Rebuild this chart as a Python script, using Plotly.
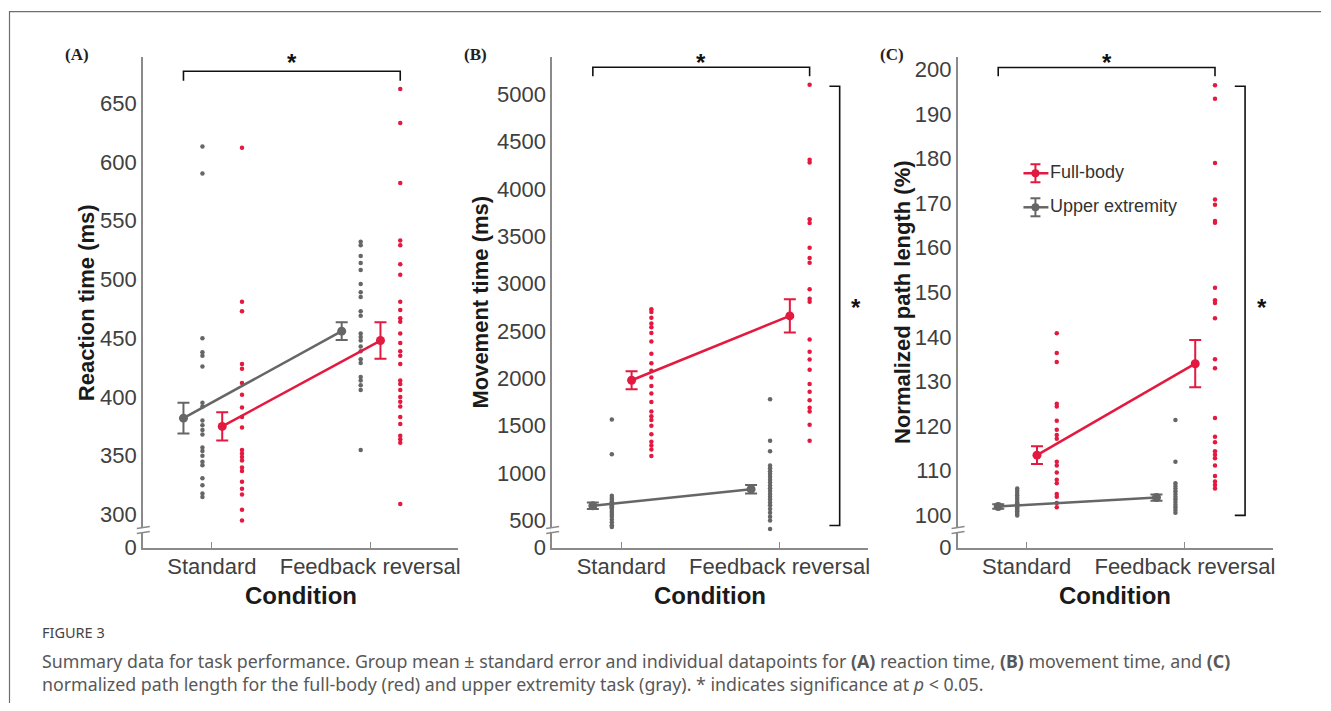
import plotly.graph_objects as go

# The page keeps an 8px body margin; the photographed page is scaled vertically by ~0.981.
PAGE_OFF = 8
VS = 0.981
W = 1331 - 2 * PAGE_OFF
H = int(711 / VS) - 2 * PAGE_OFF
conditions = ['Standard', 'Feedback reversal']

# ---------------- Panel A: reaction time (ms) ----------------
rt_upper_std = [613, 590, 450, 438, 435, 426, 395, 392, 380, 376, 372, 368, 357, 354, 350, 345, 342, 331, 325, 318, 315]
rt_full_std = [612, 481, 473, 428, 424, 412, 402, 391, 383, 374, 355, 352, 349, 346, 340, 337, 328, 322, 317, 304, 295]
rt_upper_fr = [532, 529, 520, 514, 508, 496, 489, 485, 473, 469, 454, 451, 448, 443, 439, 432, 429, 417, 414, 410, 406, 355]
rt_full_fr = [662, 633, 582, 533, 529, 513, 504, 481, 474, 467, 464, 454, 446, 439, 435, 428, 414, 411, 406, 400, 396,
              392, 383, 377, 367, 364, 361, 309]
rt_upper_mean = [382, 456]
rt_upper_se = [13, 7.5]
rt_full_mean = [375, 448]
rt_full_se = [12, 15.5]

# ---------------- Panel B: movement time (ms) ----------------
mt_upper_std = [1566, 1200, 760, 740, 720, 700, 690, 680, 670, 660, 650, 640, 630, 620, 600, 580, 560, 540, 510, 480, 450, 430]
mt_full_std = [2730, 2700, 2640, 2580, 2540, 2480, 2390, 2260, 2160, 2080, 2010, 1920, 1840, 1750, 1650, 1600, 1560, 1500,
               1410, 1330, 1290, 1250, 1180]
mt_upper_fr = [1780, 1340, 1230, 1080, 1050, 1020, 990, 960, 930, 900, 870, 840, 810, 780, 750, 720, 690, 660, 620, 580,
               540, 500, 410]
mt_full_fr = [5100, 4310, 4280, 3680, 3640, 3380, 3270, 3220, 2940, 2840, 2810, 2410, 2280, 2200, 2090, 1940, 1860, 1770,
              1690, 1650, 1510, 1340]
mt_upper_mean = [655, 830]
mt_upper_se = [35, 45]
mt_full_mean = [1980, 2660]
mt_full_se = [95, 175]

# ---------------- Panel C: normalized path length (%) ----------------
pl_upper_std = [106, 105.5, 105, 104.5, 104, 103.5, 103, 102.7, 102.4, 102.1, 101.8, 101.5, 101.2, 100.9, 100.6, 100.3, 100]
pl_full_std = [140.8, 136.4, 134.4, 125, 124.4, 121.2, 119.2, 118, 117.2, 112, 111.2, 109.6, 108, 107.2, 104.8, 104.2,
               102.8, 101.8]
pl_upper_fr = [121.4, 112, 107.2, 106.6, 106, 105.4, 104.8, 104.2, 103.6, 103, 102.4, 101.8, 101.2, 100.6]
pl_full_fr = [196.4, 193.4, 179, 170.8, 169.6, 166, 165.6, 151, 148.2, 147.6, 144.2, 135, 133, 121.8, 117.6, 116.4, 114.4,
              113.6, 112.8, 111.2, 108.8, 107.6, 106.8, 106]
pl_upper_mean = [102.0, 104.0]
pl_upper_se = [0.5, 0.7]
pl_full_mean = [113.5, 134.0]
pl_full_se = [2.0, 5.3]

# tick labels
rt_ticks = [300, 350, 400, 450, 500, 550, 600, 650]
mt_ticks = [500, 1000, 1500, 2000, 2500, 3000, 3500, 4000, 4500, 5000]
pl_ticks = [100, 110, 120, 130, 140, 150, 160, 170, 180, 190, 200]

RED = '#E3193F'
GRAY = '#666666'
AXC = '#8a8a8a'
TXT = '#404040'
FONT = 'Liberation Sans, Arial, Helvetica, sans-serif'

OFF_UM, OFF_UP, OFF_FM, OFF_FP = -0.18, -0.06, 0.065, 0.19

panels = [
    dict(up_s=rt_upper_std, fu_s=rt_full_std, up_f=rt_upper_fr, fu_f=rt_full_fr,
         um=rt_upper_mean, use=rt_upper_se, fm=rt_full_mean, fse=rt_full_se,
         ticks=rt_ticks, yr=[272, 689], xdom=(143, 459), title='Reaction time (ms)', label='(A)',
         lab_x=77, title_x=86, hbr=(677, 669), vbr=None),
    dict(up_s=mt_upper_std, fu_s=mt_full_std, up_f=mt_upper_fr, fu_f=mt_full_fr,
         um=mt_upper_mean, use=mt_upper_se, fm=mt_full_mean, fse=mt_full_se,
         ticks=mt_ticks, yr=[214, 5392], xdom=(553, 869), title='Movement time (ms)', label='(B)',
         lab_x=476, title_x=481, hbr=(5286, 5190), vbr=(447, 5085)),
    dict(up_s=pl_upper_std, fu_s=pl_full_std, up_f=pl_upper_fr, fu_f=pl_full_fr,
         um=pl_upper_mean, use=pl_upper_se, fm=pl_full_mean, fse=pl_full_se,
         ticks=pl_ticks, yr=[92.8, 202.7], xdom=(959, 1275), title='Normalized path length (%)', label='(C)',
         lab_x=893, title_x=904, hbr=(200.4, 198.4), vbr=(100, 196.2)),
]

Y_TOP, Y_BOT = 58, 548


def px(x):
    """window x pixel -> paper fraction"""
    return (x - PAGE_OFF) / W


def py(y):
    """window y pixel -> paper fraction"""
    return 1 - ((y - 1) / VS - PAGE_OFF) / H


fig = go.Figure()
shapes = []
annotations = []

for i, p in enumerate(panels):
    n = '' if i == 0 else str(i + 1)
    xa, ya = 'x' + n, 'y' + n
    # individual datapoints
    fig.add_trace(go.Scatter(x=[1 + OFF_UP] * len(p['up_s']) + [2 + OFF_UP] * len(p['up_f']),
                             y=p['up_s'] + p['up_f'], mode='markers',
                             marker=dict(size=4.5, color=GRAY), xaxis=xa, yaxis=ya, showlegend=False))
    fig.add_trace(go.Scatter(x=[1 + OFF_FP] * len(p['fu_s']) + [2 + OFF_FP] * len(p['fu_f']),
                             y=p['fu_s'] + p['fu_f'], mode='markers',
                             marker=dict(size=4.5, color=RED), xaxis=xa, yaxis=ya, showlegend=False))
    # group means with SE
    fig.add_trace(go.Scatter(x=[1 + OFF_UM, 2 + OFF_UM], y=p['um'], mode='lines+markers',
                             line=dict(color=GRAY, width=2.5), marker=dict(size=9, color=GRAY),
                             error_y=dict(type='data', array=p['use'], color=GRAY, thickness=2, width=6),
                             xaxis=xa, yaxis=ya, showlegend=False))
    fig.add_trace(go.Scatter(x=[1 + OFF_FM, 2 + OFF_FM], y=p['fm'], mode='lines+markers',
                             line=dict(color=RED, width=2.5), marker=dict(size=9, color=RED),
                             error_y=dict(type='data', array=p['fse'], color=RED, thickness=2, width=6),
                             xaxis=xa, yaxis=ya, showlegend=False))

    x0, x1 = p['xdom']
    fig.update_layout(**{
        'xaxis' + n: dict(domain=[px(x0), px(x1)], range=[0.563, 2.557], anchor=ya,
                          tickvals=[1, 2], ticktext=conditions, showline=True, linecolor=AXC, linewidth=1.5,
                          ticks='inside', ticklen=6, tickcolor=AXC, showgrid=False, zeroline=False,
                          ticklabelstandoff=-2,
                          tickfont=dict(size=22, color=TXT, family=FONT), fixedrange=True),
        'yaxis' + n: dict(domain=[py(Y_BOT), py(Y_TOP)], range=p['yr'], anchor=xa,
                          tickvals=[p['yr'][0]] + p['ticks'], ticktext=['0'] + [str(t) for t in p['ticks']],
                          showline=True, linecolor=AXC, linewidth=1.5, ticks='', showgrid=False,
                          zeroline=False, tickfont=dict(size=22, color=TXT, family=FONT), fixedrange=True),
    })

    # axis break marks on y-axis
    shapes.append(dict(type='rect', xref='paper', yref='paper', x0=px(x0 - 2), x1=px(x0 + 2),
                       y0=py(533), y1=py(528), fillcolor='white', line=dict(width=0), layer='above'))
    for yy in (528, 533):
        shapes.append(dict(type='line', xref='paper', yref='paper', x0=px(x0 - 6), x1=px(x0 + 7),
                           y0=py(yy + 1), y1=py(yy - 1), line=dict(color=AXC, width=1.5), layer='above'))

    # significance bracket (condition effect)
    yb, yt = p['hbr']
    shapes.append(dict(type='path', xref=xa, yref=ya,
                       path=f'M {1 + OFF_UM},{yt} L {1 + OFF_UM},{yb} L {2 + OFF_FP},{yb} L {2 + OFF_FP},{yt}',
                       line=dict(color='#111111', width=1.6)))
    annotations.append(dict(x=(1 + OFF_UM + 2 + OFF_FP) / 2, xref=xa, y=py(63), yref='paper', text='<b>*</b>',
                            showarrow=False, xanchor='center', yanchor='middle',
                            font=dict(size=24, color='#111111', family=FONT)))
    # significance bracket (task effect)
    if p['vbr'] is not None:
        v0, v1 = p['vbr']
        shapes.append(dict(type='path', xref=xa, yref=ya,
                           path=f'M 2.315,{v1} L 2.38,{v1} L 2.38,{v0} L 2.315,{v0}',
                           line=dict(color='#111111', width=1.6)))
        annotations.append(dict(x=2.485, xref=xa, y=py(308), yref='paper', text='<b>*</b>', showarrow=False,
                                xanchor='center', yanchor='middle',
                                font=dict(size=24, color='#111111', family=FONT)))

    # titles and panel label
    annotations.append(dict(x=px(p['title_x']), y=py(303), xref='paper', yref='paper', text='<b>' + p['title'] + '</b>',
                            textangle=-90, showarrow=False, xanchor='center', yanchor='middle',
                            font=dict(size=22, color='#1a1a1a', family=FONT)))
    annotations.append(dict(x=px((x0 + x1) / 2), y=py(596), xref='paper', yref='paper', text='<b>Condition</b>',
                            showarrow=False, xanchor='center', yanchor='middle',
                            font=dict(size=24, color='#1a1a1a', family=FONT)))
    annotations.append(dict(x=px(p['lab_x']), y=py(55), xref='paper', yref='paper', text='<b>' + p['label'] + '</b>',
                            showarrow=False, xanchor='center', yanchor='middle',
                            font=dict(size=17, color='#222222', family='Liberation Serif, Times New Roman, serif')))

# legend (panel C) drawn manually
for yy, col, name in ((174, RED, 'Full-body'), (208, GRAY, 'Upper extremity')):
    shapes.append(dict(type='line', xref='paper', yref='paper', x0=px(1025), x1=px(1050), y0=py(yy), y1=py(yy),
                       line=dict(color=col, width=2.5)))
    shapes.append(dict(type='line', xref='paper', yref='paper', x0=px(1037), x1=px(1037), y0=py(yy - 9), y1=py(yy + 9),
                       line=dict(color=col, width=2)))
    for cy in (yy - 9, yy + 9):
        shapes.append(dict(type='line', xref='paper', yref='paper', x0=px(1032), x1=px(1042), y0=py(cy), y1=py(cy),
                           line=dict(color=col, width=2)))
    shapes.append(dict(type='circle', xref='paper', yref='paper', x0=px(1033), x1=px(1041), y0=py(yy + 4),
                       y1=py(yy - 4), fillcolor=col, line=dict(color=col, width=0)))
    annotations.append(dict(x=px(1050), y=py(yy - 1), xref='paper', yref='paper', text=name, showarrow=False,
                            xanchor='left', yanchor='middle', font=dict(size=18, color='#333333', family=FONT)))

# figure frame
shapes.append(dict(type='line', xref='paper', yref='paper', x0=px(9), x1=1, y0=py(12.5), y1=py(12.5),
                   line=dict(color='#6e6e6e', width=1.2)))
shapes.append(dict(type='line', xref='paper', yref='paper', x0=px(9.5), x1=px(9.5), y0=py(12), y1=0,
                   line=dict(color='#6e6e6e', width=1.2)))

# caption
CAP = 'Noto Sans, Open Sans, sans-serif'
annotations.append(dict(x=px(40), y=py(632), xref='paper', yref='paper', text='FIGURE 3', showarrow=False,
                        xanchor='left', yanchor='middle', font=dict(size=14.5, color='#444444', family=CAP)))
annotations.append(dict(x=px(40), y=py(661), xref='paper', yref='paper',
                        text='Summary data for task performance. Group mean ± standard error and individual datapoints for '
                             '<b>(A)</b> reaction time, <b>(B)</b> movement time, and <b>(C)</b>',
                        showarrow=False, xanchor='left', yanchor='middle', font=dict(size=17.8, color='#585858', family=CAP)))
annotations.append(dict(x=px(40), y=py(684), xref='paper', yref='paper',
                        text='normalized path length for the full-body (red) and upper extremity task (gray). '
                             '* indicates significance at <i>p</i> &lt; 0.05.',
                        showarrow=False, xanchor='left', yanchor='middle', font=dict(size=17.8, color='#585858', family=CAP)))

fig.update_layout(width=W, height=H, margin=dict(l=0, r=0, t=0, b=0), paper_bgcolor='white', plot_bgcolor='white',
                  shapes=shapes, annotations=annotations, showlegend=False, font=dict(family=FONT))

fig.write_html('out.html')
